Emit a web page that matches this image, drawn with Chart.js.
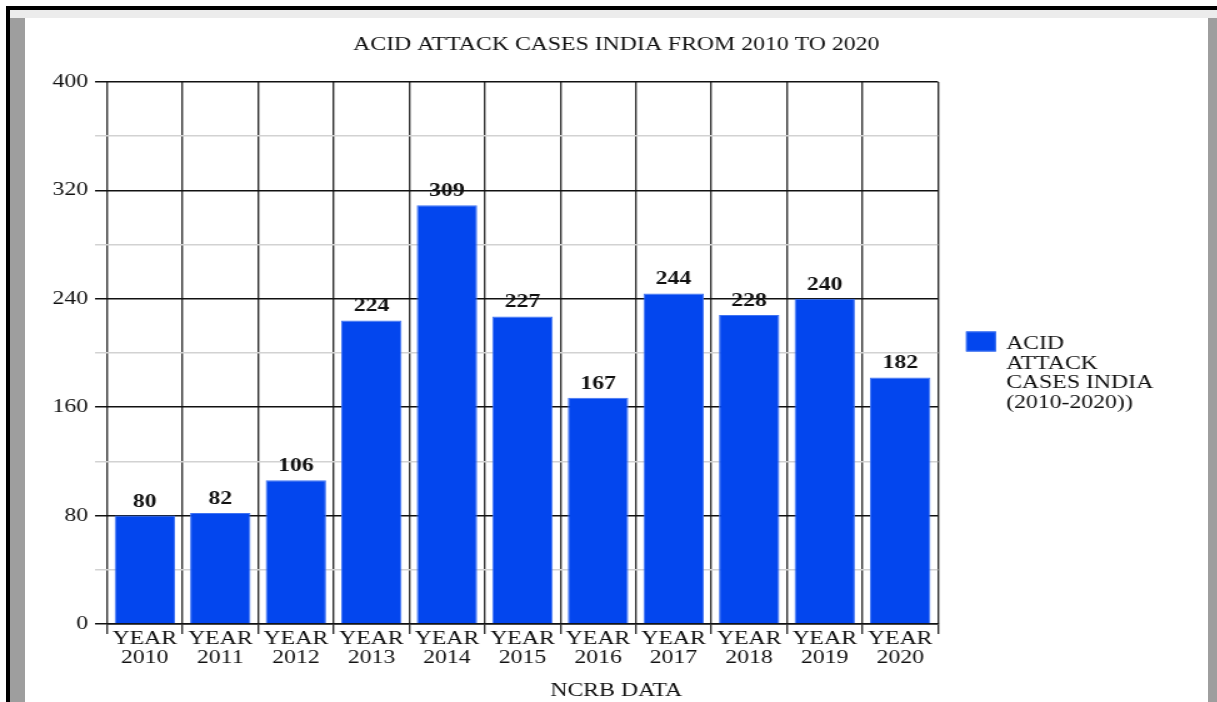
<!DOCTYPE html>
<html>
<head>
<meta charset="utf-8">
<title>Acid attack cases India</title>
<script src="https://cdn.jsdelivr.net/npm/chart.js@4.4.0/dist/chart.umd.min.js"></script>
<style>
  html, body { margin: 0; padding: 0; background: #fff; }
  body { width: 1217px; height: 702px; position: relative; overflow: hidden; }
  .edge { position: absolute; }
  #wrap {
    position: absolute; left: 25px; top: 19px;
    width: 946px; height: 684px;
    transform: scaleX(1.25); transform-origin: 0 0;
  }
</style>
</head>
<body>
<div class="edge" style="left:6px;top:6px;width:1211px;height:4px;background:#000"></div>
<div class="edge" style="left:6px;top:6px;width:4px;height:696px;background:#000"></div>
<div class="edge" style="left:10px;top:10px;width:1207px;height:8px;background:#ececec"></div>
<div class="edge" style="left:10px;top:18px;width:15px;height:684px;background:#9e9e9e"></div>
<div class="edge" style="left:1208px;top:18px;width:9px;height:684px;background:#9e9e9e"></div>
<div id="wrap"><canvas id="grafico"></canvas></div>

<script>
// --- dados ---
const anos = ['2010', '2011', '2012', '2013', '2014', '2015', '2016', '2017', '2018', '2019', '2020'];
const casos = [80, 82, 106, 224, 309, 227, 167, 244, 228, 240, 182];
const rotulosY = [0, 80, 160, 240, 320, 400];
const tituloGrafico = 'ACID ATTACK CASES INDIA FROM 2010 TO 2020';
const tituloEixoX = 'NCRB DATA';
const nomeSerie = 'ACID ATTACK CASES INDIA (2010-2020))';

const fonte = "'Liberation Serif', 'Times New Roman', serif";
const corBarra = '#0346ee';

// valor em cima de cada barra
const rotuloValores = {
    id: 'rotuloValores',
    afterDatasetsDraw(chart) {
        const ctx = chart.ctx;
        const meta = chart.getDatasetMeta(0);
        ctx.save();
        ctx.font = 'bold 19px ' + fonte;
        ctx.fillStyle = '#111';
        ctx.textAlign = 'center';
        ctx.textBaseline = 'middle';
        meta.data.forEach((barra, i) => {
            ctx.fillText(chart.data.datasets[0].data[i], barra.x, barra.y - 14);
        });
        ctx.restore();
    }
};

// legenda lateral com quebra de linha
function quebrarTexto(ctx, texto, largura) {
    const palavras = texto.split(' ');
    const linhas = [];
    let atual = '';
    palavras.forEach(p => {
        const teste = atual ? atual + ' ' + p : p;
        if (atual && ctx.measureText(teste).width > largura) {
            linhas.push(atual);
            atual = p;
        } else {
            atual = teste;
        }
    });
    if (atual) linhas.push(atual);
    return linhas;
}

const legendaLateral = {
    id: 'legendaLateral',
    start(chart) {
        const caixa = {
            position: 'right', weight: 100, fullSize: false, options: {},
            left: 0, top: 0, right: 0, bottom: 0, width: 0, height: 0,
            isHorizontal() { return false; },
            getPadding() { return { top: 0, left: 0, right: 0, bottom: 0 }; },
            update(maxW, maxH) { this.width = 215.6; this.height = maxH; },
            draw() {
                const ctx = chart.ctx;
                const ds = chart.data.datasets[0];
                const topo = chart.chartArea.top;
                ctx.save();
                ctx.fillStyle = ds.backgroundColor;
                ctx.fillRect(this.left + 22.4, topo + 249.5, 24, 20);
                ctx.strokeStyle = ds.borderColor;
                ctx.lineWidth = 1;
                ctx.strokeRect(this.left + 22.9, topo + 250, 23, 19);
                ctx.font = '19px ' + fonte;
                ctx.fillStyle = '#111';
                ctx.textBaseline = 'middle';
                const linhas = quebrarTexto(ctx, ds.label, 122);
                linhas.forEach((l, i) => ctx.fillText(l, this.left + 54.5, topo + 262.5 + i * 19.4));
                ctx.restore();
            }
        };
        Chart.layouts.addBox(chart, caixa);
    }
};

const ctx = document.getElementById('grafico').getContext('2d');
new Chart(ctx, {
    type: 'bar',
    data: {
        labels: anos.map(a => ['YEAR', a]),
        datasets: [{
            label: nomeSerie,
            data: casos,
            backgroundColor: corBarra,
            borderColor: '#3f73f2',
            borderWidth: 1,
            barPercentage: 0.8,
            categoryPercentage: 1
        }]
    },
    options: {
        responsive: true,
        maintainAspectRatio: false,
        animation: false,
        layout: { padding: 0 },
        plugins: {
            legend: { display: false },
            tooltip: { enabled: false },
            title: {
                display: true,
                text: tituloGrafico,
                color: '#111',
                font: { family: fonte, size: 19, weight: 'normal', lineHeight: 1.2 },
                padding: { top: 14.6, bottom: 25.6 }
            },
            subtitle: {
                display: true,
                position: 'bottom',
                text: tituloEixoX,
                color: '#111',
                font: { family: fonte, size: 19, weight: 'normal', lineHeight: 1.2 },
                padding: { top: 0, bottom: 0.6 }
            }
        },
        scales: {
            x: {
                afterFit: s => { s.height = 55.6; },
                grid: {
                    offset: true,
                    color: '#333',
                    lineWidth: 1.4,
                    tickLength: 10,
                    tickColor: '#333'
                },
                border: { display: true, color: '#111', width: 1.5 },
                ticks: {
                    color: '#111',
                    font: { family: fonte, size: 19, lineHeight: 0.98 },
                    padding: -4,
                    maxRotation: 0,
                    autoSkip: false
                }
            },
            y: {
                min: 0,
                max: 400,
                afterFit: s => { s.width = 65.6; },
                grid: {
                    color: c => rotulosY.includes(c.tick.value) ? '#111' : '#d2d2d2',
                    tickColor: c => rotulosY.includes(c.tick.value) ? '#111' : '#d2d2d2',
                    lineWidth: 1.5,
                    tickLength: 9.6
                },
                border: { display: false },
                ticks: {
                    stepSize: 40,
                    color: '#111',
                    padding: 5.6,
                    font: { family: fonte, size: 19 },
                    callback: v => rotulosY.includes(v) ? v : ''
                }
            }
        }
    },
    plugins: [rotuloValores, legendaLateral]
});
</script>
</body>
</html>
